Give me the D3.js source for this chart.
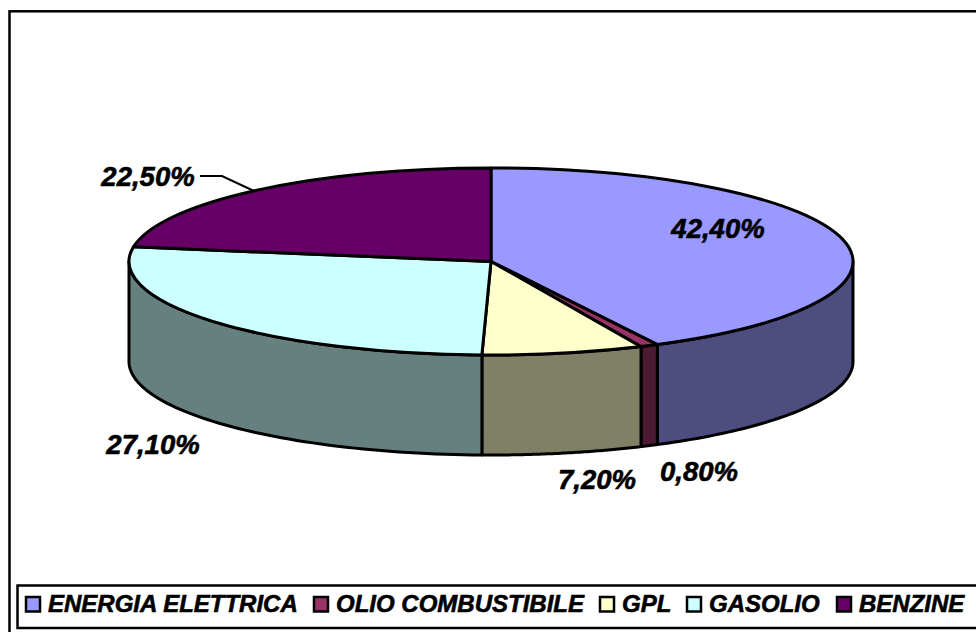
<!DOCTYPE html>
<html>
<head>
<meta charset="utf-8">
<script src="https://cdn.jsdelivr.net/npm/d3@7"></script>
<style>
  html, body { margin: 0; padding: 0; background: #fff; }
  svg { display: block; }
  text { font-family: "Liberation Sans", Arial, sans-serif; font-weight: bold; font-style: italic; fill: #000; stroke: #000; stroke-width: 0.6px; }
</style>
</head>
<body>
<div id="chart"></div>
<script>
const categories = ["ENERGIA ELETTRICA", "OLIO COMBUSTIBILE", "GPL", "GASOLIO", "BENZINE"];
const values = [42.4, 0.8, 7.2, 27.1, 22.5];
const valueLabels = ["42,40%", "0,80%", "7,20%", "27,10%", "22,50%"];
const topColors = ["#9999ff", "#993366", "#ffffcc", "#ccffff", "#660066"];
const sideColors = ["#4d4d80", "#4d1a33", "#808066", "#668080", "#330033"];

const width = 976, height = 632;
const cx = 491, cy = 261.5, rx = 362, ry = 93.5, depth = 100;
const strokeW = 3;

const svg = d3.select("#chart").append("svg")
  .attr("width", width)
  .attr("height", height);

// chart frame, runs off the right and bottom of the picture
svg.append("rect")
  .attr("x", 9.5).attr("y", 11.3)
  .attr("width", 980).attr("height", 640)
  .attr("fill", "#fff").attr("stroke", "#000").attr("stroke-width", 2.5);

const pie = d3.pie().sort(null).value(d => d);
const slices = pie(values);

// point on the ellipse, angle 0 = top, clockwise
const px = a => cx + rx * Math.sin(a);
const py = a => cy - ry * Math.cos(a);

const line = d3.line();

// outer wall of a slice: only the part on the front half is visible
function wallPath(d) {
  const a0 = Math.max(d.startAngle, Math.PI / 2);
  const a1 = Math.min(d.endAngle, Math.PI * 1.5);
  if (a1 <= a0) return null;
  const angles = d3.range(0, 61).map(i => a0 + (a1 - a0) * i / 60);
  const upper = angles.map(a => [px(a), py(a)]);
  const lower = angles.slice().reverse().map(a => [px(a), py(a) + depth]);
  return line(upper.concat(lower)) + "Z";
}

svg.append("g").selectAll("path")
  .data(slices)
  .join("path")
  .attr("d", wallPath)
  .attr("fill", (d, i) => sideColors[i])
  .attr("stroke", "#000")
  .attr("stroke-width", strokeW)
  .attr("stroke-linejoin", "round");

// top face, d3.arc squashed into the ellipse
const arc = d3.arc().innerRadius(0).outerRadius(rx);

svg.append("g")
  .attr("transform", `translate(${cx},${cy}) scale(1,${ry / rx})`)
  .selectAll("path")
  .data(slices)
  .join("path")
  .attr("d", arc)
  .attr("fill", (d, i) => topColors[i])
  .attr("stroke", "#000")
  .attr("stroke-width", strokeW)
  .attr("stroke-linejoin", "round")
  .attr("vector-effect", "non-scaling-stroke");

// value labels
const labelPos = [[718, 238], [699, 481], [597, 489], [153, 454], [148, 186]];
svg.append("g").selectAll("text")
  .data(valueLabels)
  .join("text")
  .attr("x", (d, i) => labelPos[i][0])
  .attr("y", (d, i) => labelPos[i][1])
  .attr("text-anchor", "middle")
  .attr("font-size", 27.5)
  .text(d => d);

// leader line of the BENZINE label
svg.append("path")
  .attr("d", line([[200, 176], [222, 176], [254, 191]]))
  .attr("fill", "none")
  .attr("stroke", "#000")
  .attr("stroke-width", 2);

// legend
const legend = svg.append("g");
legend.append("rect")
  .attr("x", 17.5).attr("y", 585.5)
  .attr("width", 975).attr("height", 42.5)
  .attr("fill", "#fff").attr("stroke", "#000").attr("stroke-width", 2.5);

const swatchX = [26, 314, 600, 687, 837];
const legendG = legend.selectAll("g")
  .data(categories)
  .join("g")
  .attr("transform", (d, i) => `translate(${swatchX[i]},0)`);

legendG.append("rect")
  .attr("x", 0).attr("y", 597)
  .attr("width", 14).attr("height", 14.5)
  .attr("fill", (d, i) => topColors[i])
  .attr("stroke", "#000").attr("stroke-width", 2.5);

legendG.append("text")
  .attr("x", 22).attr("y", 612)
  .attr("font-size", 24)
  .text(d => d);
</script>
</body>
</html>
